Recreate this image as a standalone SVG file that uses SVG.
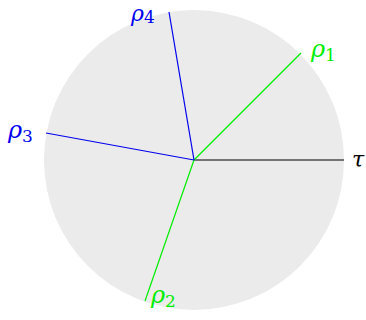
<svg xmlns="http://www.w3.org/2000/svg" width="366" height="320" viewBox="0 0 366 320">
<style>
.lbl{font-family:"DejaVu Serif","Liberation Serif",serif;font-style:italic;font-size:24px}
.sub{font-family:"DejaVu Serif","Liberation Serif",serif;font-style:normal;font-size:17px}
.g{fill:#00ee00}.b{fill:#0000ee}.k{fill:#000}
.ray{stroke-width:1.2;fill:none}
</style>
<rect width="366" height="320" fill="#fff"/>
<g id="disk"><circle cx="194" cy="160" r="150" fill="#ebebeb"/></g>
<g id="connectors">
<line class="ray" x1="194" y1="160" x2="344" y2="160" stroke="#000"/>
<line class="ray" x1="194" y1="160" x2="301" y2="53" stroke="#00ee00"/>
<line class="ray" x1="194" y1="160" x2="145" y2="301" stroke="#00ee00"/>
<line class="ray" x1="194" y1="160" x2="46" y2="133" stroke="#0000ee"/>
<line class="ray" x1="194" y1="160" x2="169" y2="12" stroke="#0000ee"/>
</g>
<g id="rho1"><text x="311" y="57" class="lbl g">ρ<tspan class="sub" dy="4">1</tspan></text></g>
<g id="rho2"><text x="151" y="303" class="lbl g">ρ<tspan class="sub" dy="4">2</tspan></text></g>
<g id="rho3"><text x="8" y="138" class="lbl b">ρ<tspan class="sub" dy="4">3</tspan></text></g>
<g id="rho4"><text x="131" y="21" class="lbl b" style="font-size:22px">ρ<tspan class="sub" dy="2">4</tspan></text></g>
<g id="tau"><text x="352" y="167" class="lbl k" style="font-size:22px">τ</text></g>
</svg>
